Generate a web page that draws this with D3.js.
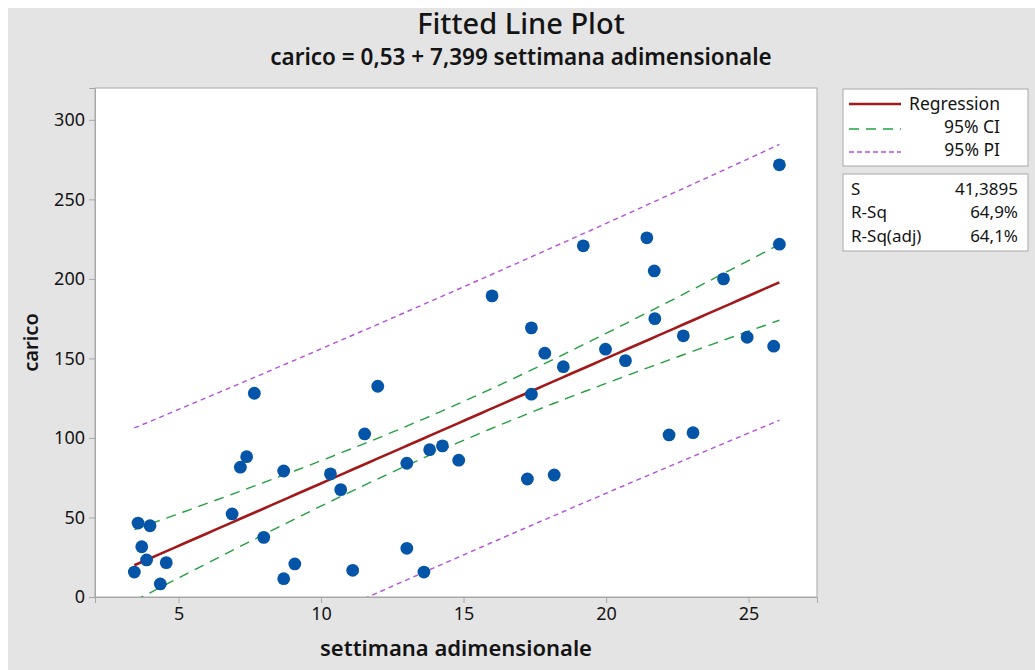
<!DOCTYPE html>
<html>
<head>
<meta charset="utf-8">
<script src="https://cdn.jsdelivr.net/npm/d3@7/dist/d3.min.js"></script>
<style>
  html, body { margin: 0; padding: 0; background: #ffffff; }
  svg { display: block; }
  text { font-family: "Noto Sans", "Open Sans", sans-serif; fill: #141414; }
</style>
</head>
<body>
<svg id="chart" width="1035" height="670"></svg>
<script>
// settimana adimensionale (x) and carico (y) for each observation
const settimana = [
  3.45, 3.58, 3.71, 3.88, 4.00, 4.36, 4.57,
  6.88, 7.17, 7.39, 7.66, 7.99,
  8.69, 8.69, 9.08,
  10.33, 10.69, 11.11, 11.53, 11.99,
  13.01, 13.01, 13.61, 13.81, 14.26, 14.83,
  16.00, 17.24, 17.38, 17.38, 17.85, 18.18, 18.50,
  19.20, 19.98, 20.68, 21.43, 21.69, 21.71,
  22.21, 22.71, 23.05, 24.12, 24.95, 25.88, 26.08, 26.08
];
const carico = [
  15.7, 46.5, 31.6, 23.3, 44.8, 8.2, 21.6,
  52.2, 81.6, 88.2, 128.1, 37.5,
  79.2, 11.5, 20.8,
  77.4, 67.5, 16.8, 102.5, 132.5,
  84.1, 30.6, 15.7, 92.6, 95.0, 86.0,
  189.3, 74.2, 169.2, 127.5, 153.3, 76.7, 144.8,
  220.8, 155.8, 148.6, 225.8, 205.0, 175.0,
  101.9, 164.2, 103.3, 200.0, 163.3, 157.7, 271.7, 221.8
];

const xTicks = [5, 10, 15, 20, 25];
const yTicks = [0, 50, 100, 150, 200, 250, 300];

const legendLabels = ["Regression", "95% CI", "95% PI"];
const statNames = ["S", "R-Sq", "R-Sq(adj)"];
const statValues = ["41,3895", "64,9%", "64,1%"];

const sResidual = 41.3895;   // S of the fit
const tCrit = 2.0141;        // t(0.975, n-2 = 45)

const W = 1035, H = 670;
const margin = { left: 95, right: 1035 - 817, top: 88, bottom: 670 - 597 };

const svg = d3.select("#chart");

// figure background
svg.append("rect").attr("x", 8).attr("y", 8).attr("width", W - 8).attr("height", H - 8)
  .attr("fill", "#e4e4e4");

const x = d3.scaleLinear().domain([2.07, 27.4]).range([margin.left, W - margin.right]);
const y = d3.scaleLinear().domain([0, 320]).range([H - margin.bottom, margin.top]);

// plot area
svg.append("rect")
  .attr("x", x.range()[0]).attr("y", y.range()[1])
  .attr("width", x.range()[1] - x.range()[0]).attr("height", y.range()[0] - y.range()[1])
  .attr("fill", "#ffffff").attr("stroke", "#a8a8a8").attr("stroke-width", 1);

svg.append("clipPath").attr("id", "plotClip").append("rect")
  .attr("x", x.range()[0]).attr("y", y.range()[1])
  .attr("width", x.range()[1] - x.range()[0]).attr("height", y.range()[0] - y.range()[1]);

// axes
const xAxis = d3.axisBottom(x).tickValues(xTicks).tickSize(6).tickPadding(4);
const yAxis = d3.axisLeft(y).tickValues(yTicks).tickSize(6).tickPadding(4);

const gx = svg.append("g").attr("transform", `translate(0,${y.range()[0]})`).call(xAxis);
const gy = svg.append("g").attr("transform", `translate(${x.range()[0]},0)`).call(yAxis);
[gx, gy].forEach(g => {
  g.select(".domain").attr("stroke", "#a8a8a8");
  g.selectAll(".tick line").attr("stroke", "#a8a8a8");
  g.selectAll(".tick text").attr("font-size", 18).attr("fill", "#141414")
    .style("font-family", "'Noto Sans', sans-serif");
});

// least-squares fit
const n = settimana.length;
const xMean = d3.mean(settimana), yMean = d3.mean(carico);
let sxx = 0, sxy = 0;
for (let i = 0; i < n; i++) {
  sxx += (settimana[i] - xMean) ** 2;
  sxy += (settimana[i] - xMean) * (carico[i] - yMean);
}
const slope = sxy / sxx;
const intercept = yMean - slope * xMean;
const fit = v => intercept + slope * v;

const [xMin, xMax] = d3.extent(settimana);
const grid = d3.range(0, 81).map(i => xMin + (xMax - xMin) * i / 80);
const halfWidth = (v, extra) => tCrit * sResidual * Math.sqrt(extra + 1 / n + (v - xMean) ** 2 / sxx);

const line = d3.line().x(d => x(d[0])).y(d => y(d[1]));
const plot = svg.append("g").attr("clip-path", "url(#plotClip)");

const colors = { reg: "#a31818", ci: "#23a040", pi: "#b450dc", pt: "#0455a8" };

// 95% PI
[1, -1].forEach(sg => {
  plot.append("path").datum(grid.map(v => [v, fit(v) + sg * halfWidth(v, 1)]))
    .attr("d", line).attr("fill", "none").attr("stroke", colors.pi)
    .attr("stroke-width", 1.4).attr("stroke-dasharray", "5,4");
});
// 95% CI
[1, -1].forEach(sg => {
  plot.append("path").datum(grid.map(v => [v, fit(v) + sg * halfWidth(v, 0)]))
    .attr("d", line).attr("fill", "none").attr("stroke", colors.ci)
    .attr("stroke-width", 1.4).attr("stroke-dasharray", "10,7");
});
// regression line
plot.append("path").datum(grid.map(v => [v, fit(v)]))
  .attr("d", line).attr("fill", "none").attr("stroke", colors.reg).attr("stroke-width", 2.6);

// observations
plot.selectAll("circle.obs").data(d3.zip(settimana, carico)).join("circle")
  .attr("class", "obs")
  .attr("cx", d => x(d[0])).attr("cy", d => y(d[1])).attr("r", 6.4)
  .attr("fill", colors.pt);

// titles
svg.append("text").attr("x", 521).attr("y", 34).attr("text-anchor", "middle")
  .attr("font-size", 29).attr("font-weight", 500).text("Fitted Line Plot");
svg.append("text").attr("x", 521).attr("y", 65).attr("text-anchor", "middle")
  .attr("font-size", 22.5).attr("font-weight", 600)
  .text("carico = 0,53 + 7,399 settimana adimensionale");

svg.append("text").attr("x", (x.range()[0] + x.range()[1]) / 2).attr("y", 656)
  .attr("text-anchor", "middle").attr("font-size", 22).attr("font-weight", 600)
  .text("settimana adimensionale");
svg.append("text")
  .attr("transform", `translate(38,${(y.range()[0] + y.range()[1]) / 2}) rotate(-90)`)
  .attr("text-anchor", "middle").attr("font-size", 20).attr("font-weight", 600)
  .text("carico");

// legend
const lg = svg.append("g");
lg.append("rect").attr("x", 843).attr("y", 89).attr("width", 185).attr("height", 77)
  .attr("fill", "#ffffff").attr("stroke", "#a8a8a8");
const legendStyles = [
  { c: colors.reg, w: 2.6, dash: null },
  { c: colors.ci, w: 1.4, dash: "10,7" },
  { c: colors.pi, w: 1.4, dash: "5,3" }
];
legendLabels.forEach((lab, i) => {
  const yy = 104 + i * 23;
  const st = legendStyles[i];
  lg.append("line").attr("x1", 849).attr("x2", 901).attr("y1", yy + (i ? 2 : 0)).attr("y2", yy + (i ? 2 : 0))
    .attr("stroke", st.c).attr("stroke-width", st.w).attr("stroke-dasharray", st.dash);
  lg.append("text").attr("x", 1000).attr("y", yy + 6).attr("text-anchor", "end")
    .attr("font-size", 17.5).text(lab);
});

lg.append("rect").attr("x", 843).attr("y", 174).attr("width", 185).attr("height", 77)
  .attr("fill", "#ffffff").attr("stroke", "#a8a8a8");
statNames.forEach((nm, i) => {
  const yy = 195 + i * 23.3;
  lg.append("text").attr("x", 851).attr("y", yy).attr("font-size", 17).text(nm);
  lg.append("text").attr("x", 1018).attr("y", yy).attr("text-anchor", "end")
    .attr("font-size", 17).text(statValues[i]);
});
</script>
</body>
</html>
